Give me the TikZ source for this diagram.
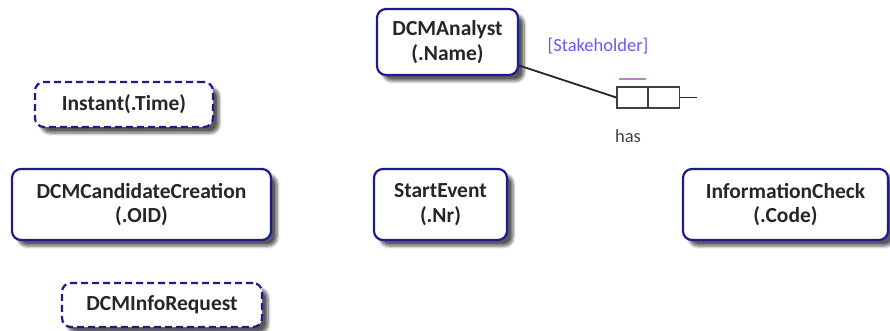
\documentclass[tikz,border=0pt]{standalone}
\usepackage{fontspec}
\setmainfont{Carlito}
\usetikzlibrary{shadows.blur}
\definecolor{navy}{HTML}{1C1C8E}
\definecolor{stake}{HTML}{6A58F4}
\definecolor{rolemark}{HTML}{C080C8}
\tikzset{
  ent/.style={draw=navy, line width=2.2pt, rounded corners=9pt, fill=white,
    align=center, font=\fontsize{21.5}{24.5}\selectfont\bfseries, text=black!85,
    inner sep=0pt,
    blur shadow={shadow xshift=6pt, shadow yshift=-6pt, shadow blur steps=6, shadow blur radius=3pt, shadow opacity=65}},
  entdash/.style={ent, dashed, dash pattern=on 7pt off 4pt},
  cell/.style={draw=black!75, line width=1.3pt, minimum width=30.5pt, minimum height=21pt, inner sep=0pt},
  lbl/.style={font=\fontsize{18.5}{21}\selectfont, inner sep=0pt}
}
\begin{document}
\begin{tikzpicture}[x=1pt,y=-1pt]
\useasboundingbox (0,0) rectangle (890,331);
\node[ent, minimum width=141pt, minimum height=66pt] (analyst) at (447.5,42) {DCMAnalyst\\(.Name)};
\node[entdash, minimum width=178pt, minimum height=45pt] (instant) at (124,104.5) {Instant(.Time)};
\node[ent, minimum width=259pt, minimum height=71pt] (cand) at (141.5,204.5) {DCMCandidateCreation\\(.OID)};
\node[ent, minimum width=133pt, minimum height=71pt] (start) at (440.5,204.5) {StartEvent\\(.Nr)};
\node[ent, minimum width=205pt, minimum height=71pt] (check) at (785.5,204.5) {InformationCheck\\(.Code)};
\node[entdash, minimum width=200pt, minimum height=44pt] (req) at (162,305) {DCMInfoRequest};
\node[cell] (r1) at (632.25,97.5) {};
\node[cell, anchor=west] (r2) at (r1.east) {};
\coordinate (stub) at (697,97.5);
\draw[line width=1.8pt, black!85] (analyst) -- (r1.west);
\draw[line width=1.8pt, black!85] (r2.east) -- (stub);
\draw[rolemark, line width=1.8pt] ([xshift=3pt,yshift=7pt]r1.north west) -- ([xshift=-2pt,yshift=7pt]r1.north east);
\node[lbl, text=stake] (stk) at (598,46) {[Stakeholder]};
\node[lbl, text=black!75] (has) at (628,136) {has};
\end{tikzpicture}
\end{document}
